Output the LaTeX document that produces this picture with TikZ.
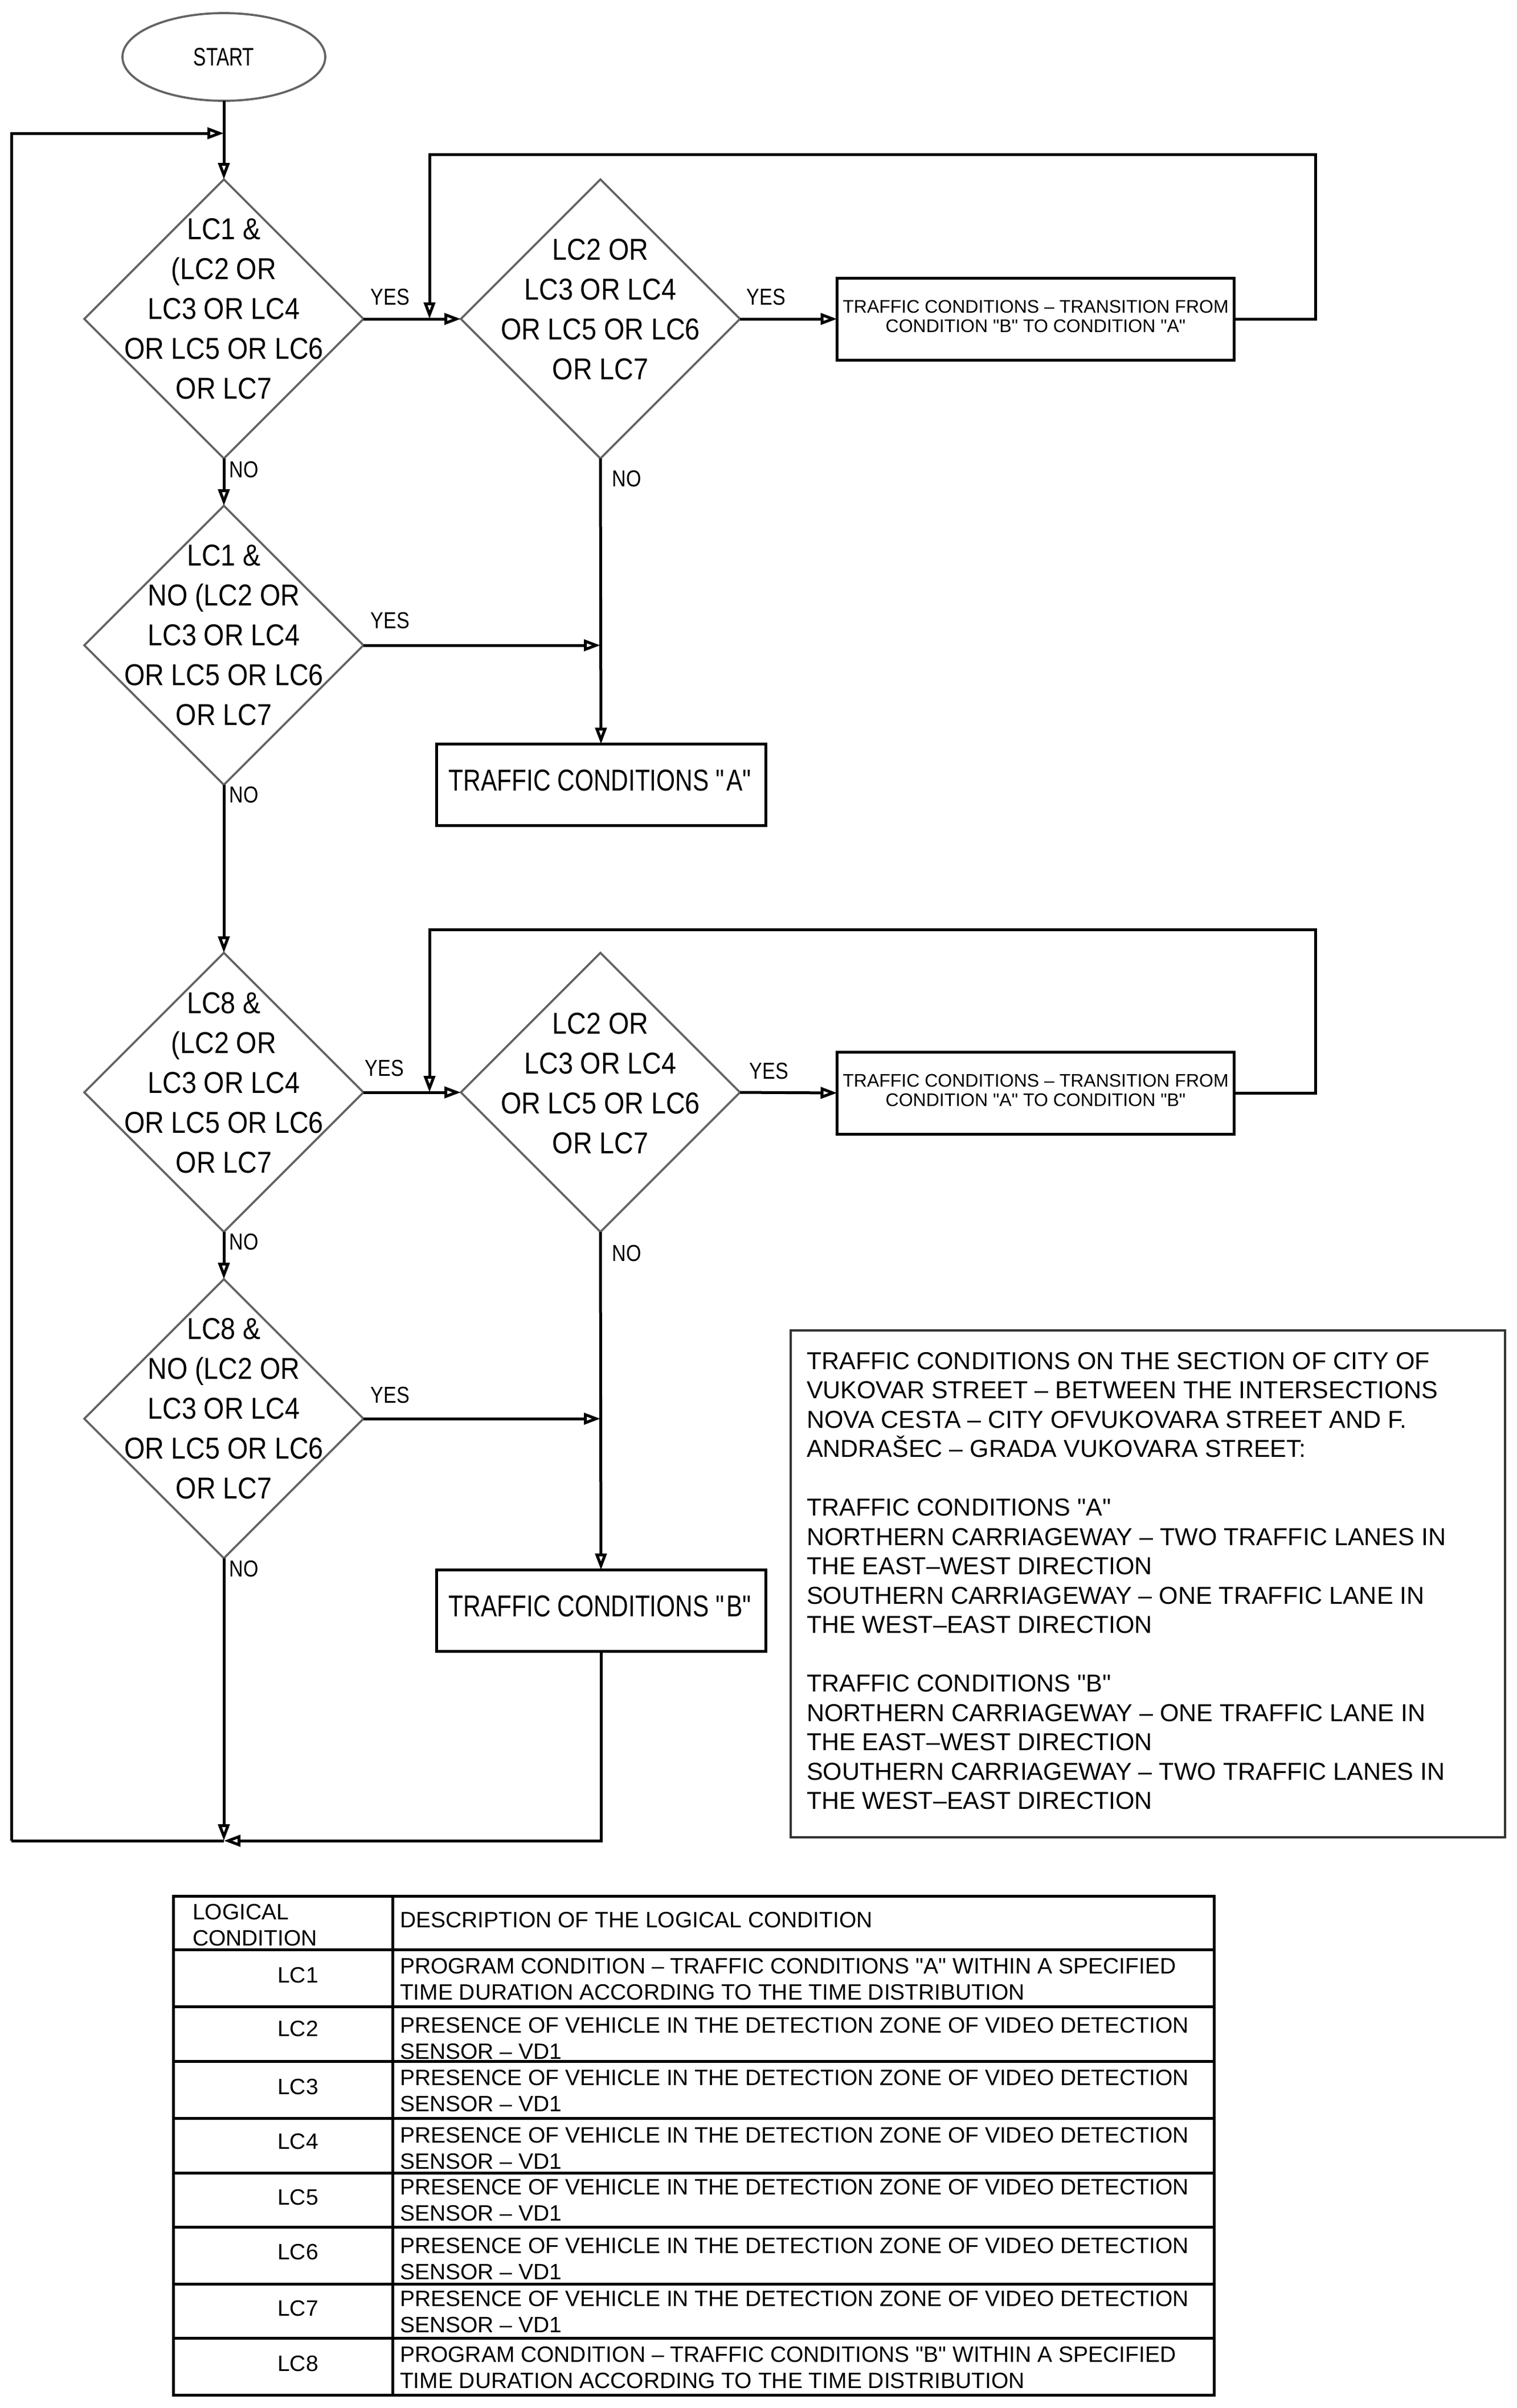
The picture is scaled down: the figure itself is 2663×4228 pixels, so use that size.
\documentclass[tikz,border=0pt]{standalone}
\usepackage{fontspec}
\setmainfont{Liberation Sans}
\newfontfamily\fdia[FakeStretch=0.88]{Liberation Sans}
\newfontfamily\fbab[FakeStretch=0.80]{Liberation Sans}
\newfontfamily\fstart[FakeStretch=0.75]{Liberation Sans}
\newfontfamily\flab[FakeStretch=0.84]{Liberation Sans}
\newcommand\qt{\XeTeXglyph\XeTeXcharglyph34\relax}
\usetikzlibrary{shapes.geometric,arrows.meta}
\definecolor{diagray}{HTML}{646464}
\definecolor{boxgray}{HTML}{333333}
\begin{document}
\begin{tikzpicture}[x=0.2pt,y=-0.2pt,
  conn/.style={line width=1pt, draw=black},
  arr/.style={conn, -{Triangle[open,length=5.8pt,width=4pt]}},
  dia/.style={diamond, aspect=1, draw=diagray, line width=0.75pt, minimum width=98pt, minimum height=98pt, inner sep=0pt, outer sep=0pt},
  diatext/.style={align=center, inner sep=0pt, font={\fdia\fontsize{10.6pt}{14pt}\selectfont}},
  startshape/.style={ellipse, draw=diagray, line width=0.75pt, minimum width=71.2pt, minimum height=30.8pt, inner sep=0pt, outer sep=0pt, font={\fstart\fontsize{8.9pt}{10pt}\selectfont}},
  bigbox/.style={rectangle, draw=black, line width=1pt, minimum width=139.4pt, minimum height=28.8pt, inner sep=0pt, outer sep=0pt, align=center, text depth=2pt, font={\fontsize{6.4pt}{6.8pt}\selectfont}},
  abbox/.style={rectangle, draw=black, line width=1pt, minimum width=115.6pt, minimum height=28.6pt, inner sep=0pt, outer sep=0pt, text depth=3.2pt, font={\fbab\fontsize{10.6pt}{12pt}\selectfont}},
  lab/.style={inner sep=0pt, font={\flab\fontsize{8.1pt}{9pt}\selectfont}},
  info/.style={inner sep=0pt, align=left, anchor=north west, font={\fontsize{8.6pt}{10.3pt}\selectfont}},
  tab/.style={inner sep=0pt, align=left, font={\fontsize{7.8pt}{9.3pt}\selectfont}},
  tabline/.style={line width=1pt, draw=black}
]
\useasboundingbox (0,0) rectangle (2663,4228);
\fill[white] (0,0) rectangle (2663,4228);

% ---------- nodes ----------
\node[startshape] (st) at (393,100) {START};

\node[dia] (d1) at (393,560) {};
\node[diatext] (d1t) at (393,542) {LC1 \&\\(LC2 OR\\LC3 OR LC4\\OR LC5 OR LC6\\OR LC7};
\node[dia] (d1b) at (1054,560) {};
\node[diatext] (d1bt) at (1054,543) {LC2 OR\\LC3 OR LC4\\OR LC5 OR LC6\\OR LC7};
\node[bigbox] (b1) at (1818,560) {TRAFFIC CONDITIONS – TRANSITION FROM\\CONDITION \qt B\qt{} TO CONDITION \qt A\qt};

\node[dia] (d2) at (393,1133) {};
\node[diatext] (d2t) at (393,1115) {LC1 \&\\NO (LC2 OR\\LC3 OR LC4\\OR LC5 OR LC6\\OR LC7};
\node[abbox] (bA) at (1055,1378) {TRAFFIC CONDITIONS \qt A\qt};

\node[dia] (d3) at (393,1918) {};
\node[diatext] (d3t) at (393,1901) {LC8 \&\\(LC2 OR\\LC3 OR LC4\\OR LC5 OR LC6\\OR LC7};
\node[dia] (d3b) at (1054,1918) {};
\node[diatext] (d3bt) at (1054,1902) {LC2 OR\\LC3 OR LC4\\OR LC5 OR LC6\\OR LC7};
\node[bigbox] (b2) at (1818,1919) {TRAFFIC CONDITIONS – TRANSITION FROM\\CONDITION \qt A\qt{} TO CONDITION \qt B\qt};

\node[dia] (d4) at (393,2491) {};
\node[diatext] (d4t) at (393,2473) {LC8 \&\\NO (LC2 OR\\LC3 OR LC4\\OR LC5 OR LC6\\OR LC7};
\node[abbox] (bB) at (1055,2828) {TRAFFIC CONDITIONS \qt B\qt};

% ---------- labels ----------
\node[lab] (y1) at (685,522) {YES};
\node[lab] (y1b) at (1345,522) {YES};
\node[lab] (n1) at (428,825) {NO};
\node[lab] (n1b) at (1100,841) {NO};
\node[lab] (y2) at (685,1090) {YES};
\node[lab] (n2) at (428,1396) {NO};
\node[lab] (y3) at (675,1876) {YES};
\node[lab] (y3b) at (1350,1881) {YES};
\node[lab] (n3) at (428,2181) {NO};
\node[lab] (n3b) at (1100,2201) {NO};
\node[lab] (y4) at (685,2450) {YES};
\node[lab] (n4) at (428,2755) {NO};

% ---------- coordinates ----------
\coordinate (jT) at (393,234);
\coordinate (jB) at (393,3232);
\coordinate (cBL) at (20,3232);
\coordinate (m1) at (754,560);
\coordinate (r1) at (2309,271);
\coordinate (m3) at (754,1918);
\coordinate (r3) at (2309,1632);
\coordinate (jA) at (1054,1133);
\coordinate (jBB) at (1054,2491);

% ---------- connectors ----------
\draw[arr] (st.south) -- (d1.north);
\draw[arr] (cBL) |- (jT);
\draw[conn] (jB) -- (cBL);
\draw[arr] (d1.east) -- (d1b.west);
\draw[arr] (d1b.east) -- (b1.west);
\draw[arr] (b1.east) -| (r1) -| (m1);
\draw[arr] (d1.south) -- (d2.north);
\draw[arr] (d1b.south) -- (bA.north);
\draw[arr] (d2.east) -- (jA);
\draw[arr] (d2.south) -- (d3.north);
\draw[arr] (d3.east) -- (d3b.west);
\draw[arr] (d3b.east) -- (b2.west);
\draw[arr] (b2.east) -| (r3) -| (m3);
\draw[arr] (d3.south) -- (d4.north);
\draw[arr] (d3b.south) -- (bB.north);
\draw[arr] (d4.east) -- (jBB);
\draw[arr] (d4.south) -- (jB);
\draw[arr] (bB.south) |- (jB);

% ---------- information box ----------
\node[rectangle, draw=boxgray, line width=0.7pt, minimum width=250.8pt, minimum height=178pt, inner sep=0pt] (infobox) at (2015,2781) {};
\node[info] (infot) at (1415,2373) {TRAFFIC CONDITIONS ON THE SECTION OF CITY OF\\
VUKOVAR STREET – BETWEEN THE INTERSECTIONS\\
NOVA CESTA – CITY OFVUKOVARA STREET AND F.\\
ANDRAŠEC – GRADA VUKOVARA STREET:\\[10.3pt]
TRAFFIC CONDITIONS \qt A\qt\\
NORTHERN CARRIAGEWAY – TWO TRAFFIC LANES IN\\
THE EAST–WEST DIRECTION\\
SOUTHERN CARRIAGEWAY – ONE TRAFFIC LANE IN\\
THE WEST–EAST DIRECTION\\[10.3pt]
TRAFFIC CONDITIONS \qt B\qt\\
NORTHERN CARRIAGEWAY – ONE TRAFFIC LANE IN\\
THE EAST–WEST DIRECTION\\
SOUTHERN CARRIAGEWAY – TWO TRAFFIC LANES IN\\
THE WEST–EAST DIRECTION};

% ---------- table ----------
\draw[tabline] (304,3329) rectangle (2131,4205);
\draw[tabline] (689,3329) -- (689,4205);
\foreach \yy in {3423,3523,3619,3719,3815,3910,4010,4105}
  \draw[tabline] (304,\yy) -- (2131,\yy);

\node[tab, anchor=north west] (th1) at (337,3342) {LOGICAL\\CONDITION};
\node[tab, anchor=west] (th2) at (701,3371) {DESCRIPTION OF THE LOGICAL CONDITION};

\node[tab] (l1) at (523,3468) {LC1};
\node[tab] (l2) at (523,3562) {LC2};
\node[tab] (l3) at (523,3664) {LC3};
\node[tab] (l4) at (523,3760) {LC4};
\node[tab] (l5) at (523,3858) {LC5};
\node[tab] (l6) at (523,3954) {LC6};
\node[tab] (l7) at (523,4053) {LC7};
\node[tab] (l8) at (523,4150) {LC8};

\node[tab, anchor=north west] (t1) at (701,3437) {PROGRAM CONDITION – TRAFFIC CONDITIONS \qt A\qt{} WITHIN A SPECIFIED\\TIME DURATION ACCORDING TO THE TIME DISTRIBUTION};
\node[tab, anchor=north west] (t2) at (701,3541) {PRESENCE OF VEHICLE IN THE DETECTION ZONE OF VIDEO DETECTION\\SENSOR – VD1};
\node[tab, anchor=north west] (t3) at (701,3633) {PRESENCE OF VEHICLE IN THE DETECTION ZONE OF VIDEO DETECTION\\SENSOR – VD1};
\node[tab, anchor=north west] (t4) at (701,3734) {PRESENCE OF VEHICLE IN THE DETECTION ZONE OF VIDEO DETECTION\\SENSOR – VD1};
\node[tab, anchor=north west] (t5) at (701,3825) {PRESENCE OF VEHICLE IN THE DETECTION ZONE OF VIDEO DETECTION\\SENSOR – VD1};
\node[tab, anchor=north west] (t6) at (701,3928) {PRESENCE OF VEHICLE IN THE DETECTION ZONE OF VIDEO DETECTION\\SENSOR – VD1};
\node[tab, anchor=north west] (t7) at (701,4021) {PRESENCE OF VEHICLE IN THE DETECTION ZONE OF VIDEO DETECTION\\SENSOR – VD1};
\node[tab, anchor=north west] (t8) at (701,4119) {PROGRAM CONDITION – TRAFFIC CONDITIONS \qt B\qt{} WITHIN A SPECIFIED\\TIME DURATION ACCORDING TO THE TIME DISTRIBUTION};
\end{tikzpicture}
\end{document}
